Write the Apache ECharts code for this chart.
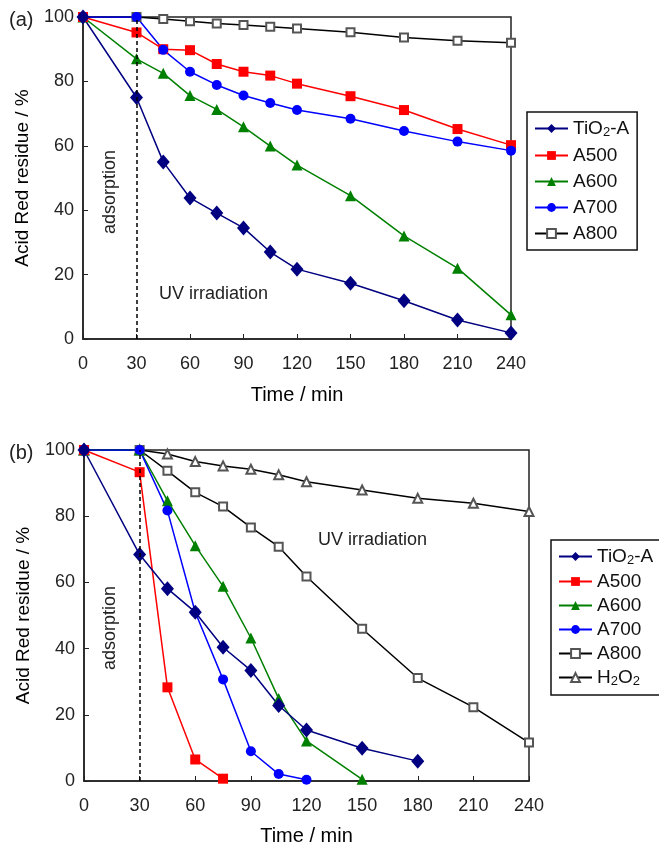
<!DOCTYPE html>
<html>
<head>
<meta charset="utf-8">
<script src="https://cdn.jsdelivr.net/npm/echarts@6/dist/echarts.min.js"></script>
<style>
  html, body { margin: 0; padding: 0; background: #fff; }
  #main { width: 659px; height: 847px; }
</style>
</head>
<body>
<div id="main"></div>
<script>
// time points (min)
var timeA = [0, 30, 45, 60, 75, 90, 105, 120, 150, 180, 210, 240];
var timeB = [0, 30, 45, 60, 75, 90, 105, 120, 150, 180, 210, 240];
var xTicks = [0, 30, 60, 90, 120, 150, 180, 210, 240];

// panel (a) values, %
var a_TiO2 = [100, 75.0, 55.0, 43.8, 39.1, 34.5, 27.0, 21.7, 17.3, 11.9, 5.9, 1.9];
var a_A500 = [100, 95.2, 90.0, 89.7, 85.4, 83.0, 81.8, 79.3, 75.4, 71.1, 65.2, 60.2];
var a_A600 = [100, 87.0, 82.5, 75.6, 71.3, 65.9, 59.9, 54.0, 44.5, 32.0, 22.0, 7.5];
var a_A700 = [100, 100, 89.8, 83.0, 78.9, 75.6, 73.3, 71.1, 68.4, 64.6, 61.3, 58.5];
var a_A800 = [100, 100, 99.4, 98.7, 98.0, 97.5, 97.0, 96.4, 95.3, 93.6, 92.6, 92.0];

// panel (b) values, %
var b_TiO2 = [100, 68.4, 58.1, 51.0, 40.4, 33.4, 22.8, 15.4, 9.9, 6.0];
var b_A500 = [100, 93.3, 28.3, 6.5, 0.7];
var b_A600 = [100, 100, 84.7, 71.1, 58.8, 43.2, 24.9, 12.1, 0.5];
var b_A700 = [100, 100, 81.7, 51.0, 30.7, 9.0, 2.1, 0.4];
var b_A800 = [100, 100, 93.7, 87.2, 82.9, 76.6, 70.8, 61.8, 46.0, 31.1, 22.3, 11.6];
var b_H2O2 = [100, 100, 98.8, 96.5, 95.2, 94.2, 92.5, 90.4, 87.9, 85.4, 83.9, 81.4];

var legendA = ['TiO2-A', 'A500', 'A600', 'A700', 'A800'];
var legendB = ['TiO2-A', 'A500', 'A600', 'A700', 'A800', 'H2O2'];

var FONT = 'Liberation Sans, Arial, sans-serif';

function zip(t, v) {
	var out = [];
	for (var i = 0; i < v.length; i++) out.push([t[i], v[i]]);
	return out;
}

var styles = {
	'TiO2-A': { color: '#000080', symbol: 'diamond', symbolSize: [13, 15] },
	'A500': { color: '#ff0000', symbol: 'rect', symbolSize: 10 },
	'A600': { color: '#008000', symbol: 'triangle', symbolSize: 11 },
	'A700': { color: '#0000ff', symbol: 'circle', symbolSize: 10 },
	'A800': { color: '#000000', symbol: 'emptyRect', symbolSize: 8, markerColor: '#555' },
	'H2O2': { color: '#000000', symbol: 'emptyTriangle', symbolSize: 9, markerColor: '#555' }
};

function mkSeries(name, idx, t, v, extra) {
	var st = styles[name];
	var s = {
		name: name,
		type: 'line',
		xAxisIndex: idx,
		yAxisIndex: idx,
		data: zip(t, v),
		symbol: st.symbol,
		symbolSize: st.symbolSize,
		lineStyle: { color: st.color, width: 1.5 },
		itemStyle: { color: st.markerColor || st.color, borderWidth: 1 },
		emphasis: { disabled: true },
		animation: false
	};
	if (extra) for (var k in extra) s[k] = extra[k];
	return s;
}

function dashedLine() {
	return {
		silent: true,
		symbol: 'none',
		label: { show: false },
		lineStyle: { color: '#000', type: [4, 3], width: 1.5 },
		data: [ { xAxis: 30 } ]
	};
}

function xAxisOf(idx, gap) {
	return {
		type: 'value', gridIndex: idx, min: 0, max: 240, interval: 30,
		name: 'Time / min', nameLocation: 'middle', nameGap: gap,
		nameTextStyle: { fontSize: 20, color: '#000', fontFamily: FONT },
		axisLine: { lineStyle: { color: '#222', width: 1.5 } },
		axisTick: { inside: true, length: 5, lineStyle: { color: '#222' } },
		axisLabel: { fontSize: 18, color: '#222', fontFamily: FONT, margin: 16,
			customValues: xTicks },
		splitLine: { show: false }
	};
}

function yAxisOf(idx) {
	return {
		type: 'value', gridIndex: idx, min: 0, max: 100, interval: 20,
		name: 'Acid Red residue / %', nameLocation: 'middle', nameGap: 51,
		nameTextStyle: { fontSize: 19, color: '#000', fontFamily: FONT },
		axisLine: { lineStyle: { color: '#222', width: 1.5 } },
		axisTick: { inside: true, length: 5, lineStyle: { color: '#222' } },
		axisLabel: { fontSize: 18, color: '#222', fontFamily: FONT, margin: 9 },
		splitLine: { show: false }
	};
}

function legendOf(data, left, top, gap) {
	return {
		data: data,
		orient: 'vertical',
		left: left, top: top,
		itemWidth: 33, itemHeight: 11, itemGap: gap,
		padding: [7, 8, 7, 7],
		borderColor: '#111', borderWidth: 1.5,
		selectedMode: false,
		textStyle: {
			fontSize: 19, color: '#111', fontFamily: FONT,
			rich: { sub: { fontSize: 13, color: '#111', fontFamily: FONT, padding: [8, 0, 0, 0] } }
		},
		formatter: function (n) {
			if (n === 'TiO2-A') return 'TiO{sub|2}-A';
			if (n === 'H2O2') return 'H{sub|2}O{sub|2}';
			return n;
		}
	};
}

var chart = echarts.init(document.getElementById('main'));

var series = [
	mkSeries('A800', 0, timeA, a_A800),
	mkSeries('A600', 0, timeA, a_A600),
	mkSeries('A500', 0, timeA, a_A500),
	mkSeries('A700', 0, timeA, a_A700),
	mkSeries('TiO2-A', 0, timeA, a_TiO2, { markLine: dashedLine() }),

	mkSeries('H2O2', 1, timeB, b_H2O2),
	mkSeries('A800', 1, timeB, b_A800),
	mkSeries('A600', 1, timeB, b_A600),
	mkSeries('A500', 1, timeB, b_A500),
	mkSeries('A700', 1, timeB, b_A700),
	mkSeries('TiO2-A', 1, timeB, b_TiO2, { markLine: dashedLine() })
];

var txt = function (x, y, s, size) {
	return {
		type: 'text', left: x, top: y,
		style: { text: s, fontSize: size || 18, fill: '#222', fontFamily: FONT }
	};
};

chart.setOption({
	backgroundColor: '#fff',
	animation: false,
	grid: [
		{ left: 83, top: 17, width: 428, height: 322, show: true, borderColor: '#222', borderWidth: 1.5 },
		{ left: 84, top: 450, width: 445, height: 332, show: true, borderColor: '#222', borderWidth: 1.5 }
	],
	xAxis: [ xAxisOf(0, 46), xAxisOf(1, 45) ],
	yAxis: [ yAxisOf(0), yAxisOf(1) ],
	legend: [ legendOf(legendA, 527, 112, 7), legendOf(legendB, 551, 540, 5) ],
	graphic: [
		txt(9, 10, '(a)', 20),
		txt(9, 443, '(b)', 20),
		txt(159, 285, 'UV irradiation'),
		txt(318, 531, 'UV irradiation'),
		{ type: 'text', x: 101, y: 234, rotation: Math.PI / 2,
			style: { text: 'adsorption', fontSize: 18, fill: '#222', fontFamily: FONT } },
		{ type: 'text', x: 101, y: 670, rotation: Math.PI / 2,
			style: { text: 'adsorption', fontSize: 18, fill: '#222', fontFamily: FONT } }
	],
	series: series
});
</script>
</body>
</html>
